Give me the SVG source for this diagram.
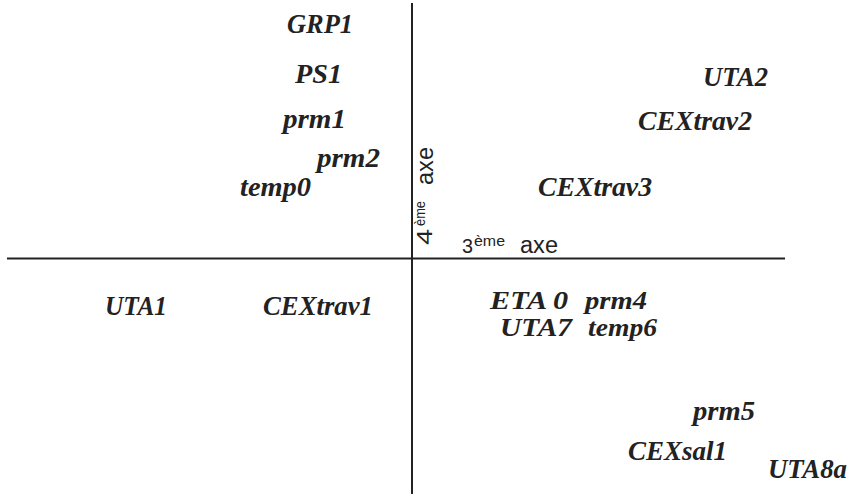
<svg xmlns="http://www.w3.org/2000/svg" width="851" height="494" viewBox="0 0 851 494">
<style>
.lbl{font-family:"Liberation Serif","Times New Roman",serif;font-weight:bold;font-style:italic;font-size:27px;fill:#222}
.sm{font-size:25px}
.ax{font-family:"Liberation Sans",Arial,sans-serif;fill:#222}
.axis{stroke:#222;stroke-width:2;fill:none}
</style>
<rect width="851" height="494" fill="#fff"/>
<g id="connectors">
<line class="axis" x1="412" y1="3" x2="412" y2="494"/>
<line class="axis" x1="7" y1="258.5" x2="785" y2="258.5"/>
</g>
<g id="axis3">
<text class="ax" x="462" y="253" font-size="21" textLength="11" lengthAdjust="spacingAndGlyphs">3</text>
<text class="ax" x="474" y="246" font-size="15" textLength="31" lengthAdjust="spacingAndGlyphs">ème</text>
<text class="ax" x="520" y="253" font-size="23" textLength="38" lengthAdjust="spacingAndGlyphs">axe</text>
</g>
<g id="axis4" transform="rotate(-90)">
<text class="ax" x="-245" y="432" font-size="22" textLength="16" lengthAdjust="spacingAndGlyphs">4</text>
<text class="ax" x="-226" y="425" font-size="15" textLength="25" lengthAdjust="spacingAndGlyphs">ème</text>
<text class="ax" x="-185" y="433" font-size="23" textLength="38" lengthAdjust="spacingAndGlyphs">axe</text>
</g>
<g id="GRP1"><text class="lbl" x="287" y="33" textLength="66" lengthAdjust="spacingAndGlyphs">GRP1</text></g>
<g id="PS1"><text class="lbl" x="295" y="83" textLength="47" lengthAdjust="spacingAndGlyphs">PS1</text></g>
<g id="prm1"><text class="lbl" x="283" y="128" textLength="63" lengthAdjust="spacingAndGlyphs">prm1</text></g>
<g id="prm2"><text class="lbl" x="317" y="167" textLength="63" lengthAdjust="spacingAndGlyphs">prm2</text></g>
<g id="temp0"><text class="lbl" x="240" y="196" textLength="71" lengthAdjust="spacingAndGlyphs">temp0</text></g>
<g id="UTA2"><text class="lbl" x="703" y="86" textLength="65" lengthAdjust="spacingAndGlyphs">UTA2</text></g>
<g id="CEXtrav2"><text class="lbl" x="638" y="130" textLength="114" lengthAdjust="spacingAndGlyphs">CEXtrav2</text></g>
<g id="CEXtrav3"><text class="lbl" x="538" y="196" textLength="114" lengthAdjust="spacingAndGlyphs">CEXtrav3</text></g>
<g id="UTA1"><text class="lbl" x="105" y="315" textLength="62" lengthAdjust="spacingAndGlyphs">UTA1</text></g>
<g id="CEXtrav1"><text class="lbl" x="263" y="315" textLength="110" lengthAdjust="spacingAndGlyphs">CEXtrav1</text></g>
<g id="ETA0"><text class="lbl sm" x="490" y="309" textLength="78" lengthAdjust="spacingAndGlyphs">ETA 0</text></g>
<g id="prm4"><text class="lbl sm" x="585" y="309" textLength="62" lengthAdjust="spacingAndGlyphs">prm4</text></g>
<g id="UTA7"><text class="lbl sm" x="500" y="336" textLength="72" lengthAdjust="spacingAndGlyphs">UTA7</text></g>
<g id="temp6"><text class="lbl sm" x="588" y="336" textLength="69" lengthAdjust="spacingAndGlyphs">temp6</text></g>
<g id="prm5"><text class="lbl" x="693" y="420" textLength="62" lengthAdjust="spacingAndGlyphs">prm5</text></g>
<g id="CEXsal1"><text class="lbl" x="628" y="460" textLength="99" lengthAdjust="spacingAndGlyphs">CEXsal1</text></g>
<g id="UTA8a"><text class="lbl" x="768" y="478" textLength="79" lengthAdjust="spacingAndGlyphs">UTA8a</text></g>
</svg>
